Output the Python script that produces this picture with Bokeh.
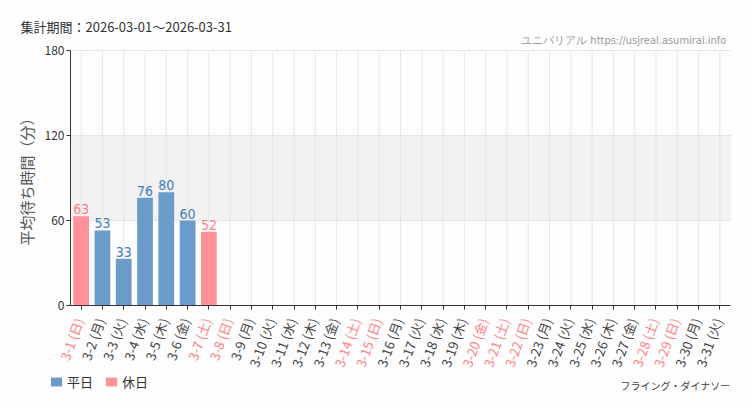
import math
from bokeh.plotting import figure
from bokeh.models import (ColumnDataSource, LabelSet, Label, BoxAnnotation,
                          FixedTicker, Range1d, LinearAxis)
from bokeh.core.properties import value
from bokeh.embed import file_html
from bokeh.resources import INLINE

# ---- data ----
dates = ["3-1", "3-2", "3-3", "3-4", "3-5", "3-6", "3-7", "3-8", "3-9", "3-10",
         "3-11", "3-12", "3-13", "3-14", "3-15", "3-16", "3-17", "3-18", "3-19", "3-20",
         "3-21", "3-22", "3-23", "3-24", "3-25", "3-26", "3-27", "3-28", "3-29", "3-30", "3-31"]
weekdays = ["日", "月", "火", "水", "木", "金", "土", "日", "月", "火",
            "水", "木", "金", "土", "日", "月", "火", "水", "木", "金",
            "土", "日", "月", "火", "水", "木", "金", "土", "日", "月", "火"]
holidays = ["3-1", "3-7", "3-8", "3-14", "3-15", "3-20", "3-21", "3-22", "3-28", "3-29"]
wait_dates = ["3-1", "3-2", "3-3", "3-4", "3-5", "3-6", "3-7"]
wait_values = [63, 53, 33, 76, 80, 60, 52]
y_ticks = [0, 60, 120, 180]
title_text = "集計期間：2026-03-01～2026-03-31"
site_text = "ユニバリアル  https://usjreal.asumirai.info"
attraction = "フライング・ダイナソー"

BLUE = "#6b9bc9"
RED = "#ff9299"
BLUE_T = "#3f7cbc"
RED_T = "#ff7f87"
JP = "Noto Sans CJK JP"
COND = "DejaVu Sans Condensed"

W, H = 750, 410
# plot-area placement (pixels in the canvas)
L, R, T, B = 70, 730, 50, 305
n = len(dates)
ymax = 180
px_x = (R - L) / n
px_y = (B - T) / ymax

x_range = Range1d(-0.5 - L / px_x, n - 0.5 + (W - R) / px_x)
y_range = Range1d(-(H - B) / px_y, ymax + T / px_y)

p = figure(x_range=x_range, y_range=y_range, width=W, height=H,
           output_backend="svg", toolbar_location=None, x_axis_type=None,
           y_axis_type=None, min_border=0)
p.title.visible = False
p.background_fill_color = "#fcfdfc"
p.border_fill_color = "#fcfdfc"
p.outline_line_color = None
p.xgrid.visible = False
p.ygrid.visible = False

idx = list(range(n))
pos = {d: i for i, d in enumerate(dates)}

# band + grid lines
p.add_layout(BoxAnnotation(bottom=60, top=120, left=-0.5, right=n - 0.5,
                           fill_color="#f2f2f2", fill_alpha=1.0,
                           line_color=None, level="underlay"))
p.segment(x0=idx, y0=[0] * n, x1=idx, y1=[ymax] * n, line_color="#e6e6e6",
          line_width=1)
p.segment(x0=[-0.5] * 3, y0=y_ticks[1:], x1=[n - 0.5] * 3, y1=y_ticks[1:],
          line_color="#e6e6e6", line_width=1)

# bars
wk = [(pos[d], v) for d, v in zip(wait_dates, wait_values) if d not in holidays]
ho = [(pos[d], v) for d, v in zip(wait_dates, wait_values) if d in holidays]
src_wk = ColumnDataSource(dict(x=[a for a, b in wk], y=[b for a, b in wk],
                               t=[str(b) for a, b in wk]))
src_ho = ColumnDataSource(dict(x=[a for a, b in ho], y=[b for a, b in ho],
                               t=[str(b) for a, b in ho]))
p.vbar(x="x", top="y", width=0.74, source=src_wk, fill_color=BLUE,
       line_color=None, legend_label="平日")
p.vbar(x="x", top="y", width=0.74, source=src_ho, fill_color=RED,
       line_color=None, legend_label="休日")

for src, col in ((src_wk, BLUE_T), (src_ho, RED_T)):
    p.add_layout(LabelSet(x="x", y="y", text="t", source=src, y_offset=2,
                          text_align="center", text_baseline="bottom",
                          text_color=col, text_font=value(COND),
                          text_font_size="14px"))

# axes drawn at fixed positions
xaxis = LinearAxis(fixed_location=0, bounds=(-0.5, n - 0.5),
                   ticker=FixedTicker(ticks=idx))
xaxis.major_label_text_alpha = 0
xaxis.major_label_text_font_size = "1px"
xaxis.axis_line_color = "#333333"
xaxis.major_tick_line_color = "#333333"
xaxis.major_tick_out = 4
xaxis.major_tick_in = 0
xaxis.minor_tick_line_color = None
p.add_layout(xaxis, "below")

yaxis = LinearAxis(fixed_location=-0.5, bounds=(0, ymax),
                   ticker=FixedTicker(ticks=y_ticks))
yaxis.minor_tick_line_color = None
yaxis.axis_line_color = "#333333"
yaxis.major_tick_line_color = "#333333"
yaxis.major_tick_out = 4
yaxis.major_tick_in = 0
yaxis.major_label_standoff = 2
yaxis.major_label_text_font = JP
yaxis.major_label_text_font_size = "12px"
yaxis.major_label_text_color = "#333333"
yaxis.axis_label = "平均待ち時間（分）"
yaxis.axis_label_text_font = JP
yaxis.axis_label_text_font_size = "15px"
yaxis.axis_label_text_font_style = "normal"
yaxis.axis_label_text_color = "#555555"
yaxis.axis_label_standoff = 5
p.add_layout(yaxis, "left")

# x labels, coloured per day
xl_text = [f"{d} ({w})" for d, w in zip(dates, weekdays)]
xl_col = [RED_T if d in holidays else "#444444" for d in dates]
src_xl = ColumnDataSource(dict(x=idx, y=[0] * n, t=xl_text, c=xl_col))
p.add_layout(LabelSet(x="x", y="y", text="t", source=src_xl, y_offset=-13,
                      x_offset=-2, angle=math.radians(70), text_align="right",
                      text_baseline="middle", text_color="c",
                      text_font=value(JP), text_font_size="13px"))

# texts (screen units, from bottom-left of canvas)
p.add_layout(Label(x=20, y=H - 26, x_units="screen", y_units="screen",
                   text=title_text, text_align="left", text_baseline="middle",
                   text_font=JP, text_font_size="13px", text_color="#333333"))
p.add_layout(Label(x=729, y=H - 40, x_units="screen", y_units="screen",
                   text=site_text, text_align="right", text_baseline="middle",
                   text_font=COND, text_font_size="11px",
                   text_color="#999999"))
p.add_layout(Label(x=730, y=H - 385, x_units="screen", y_units="screen",
                   text=attraction, text_align="right", text_baseline="middle",
                   text_font=JP, text_font_size="10px", text_color="#444444"))

# legend
lg = p.legend[0]
lg.location = (49, H - 391)
lg.orientation = "horizontal"
lg.padding = 0
lg.margin = 0
lg.spacing = 11
lg.glyph_width = 14
lg.glyph_height = 11
lg.label_height = 11
lg.label_standoff = 4
lg.label_text_font = JP
lg.label_text_font_size = "13px"
lg.label_text_color = "#333333"
lg.border_line_color = None
lg.background_fill_alpha = 0

open("out.html", "w").write(file_html(p, INLINE))
